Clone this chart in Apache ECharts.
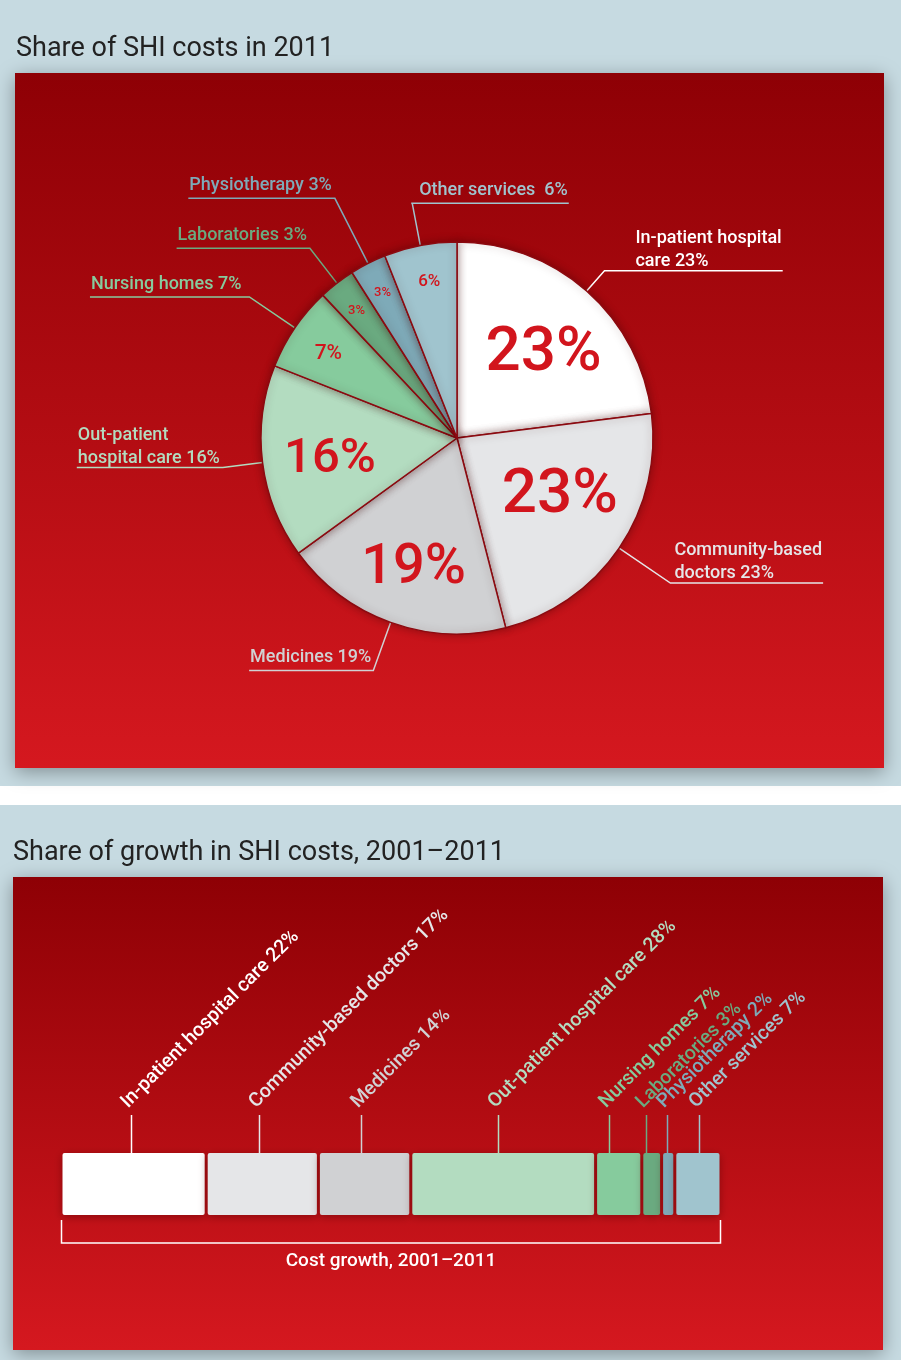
<!DOCTYPE html>
<html>
<head>
<meta charset="utf-8">
<title>Share of SHI costs</title>
<script src="https://cdn.jsdelivr.net/npm/echarts@6/dist/echarts.min.js"></script>
<style>
    html, body { margin: 0; padding: 0; background: #fff; }
    #chart { width: 901px; height: 1360px; }
</style>
</head>
<body>
<div id="chart"></div>
<script>
    // share of SHI costs in 2011, %
    var costNames = ['In-patient hospital care', 'Community-based doctors', 'Medicines', 'Out-patient hospital care',
        'Nursing homes', 'Laboratories', 'Physiotherapy', 'Other services'];
    var costShare = [23, 23, 19, 16, 7, 3, 3, 6];
    var costLabelText = ['In-patient hospital\ncare', 'Community-based\ndoctors', 'Medicines', 'Out-patient\nhospital care',
        'Nursing homes', 'Laboratories', 'Physiotherapy', 'Other services '];

    // share of growth in SHI costs 2001-2011, %
    var growthNames = ['In-patient hospital care', 'Community-based doctors', 'Medicines', 'Out-patient hospital care',
        'Nursing homes', 'Laboratories', 'Physiotherapy', 'Other services'];
    var growthShare = [22, 17, 14, 28, 7, 3, 2, 7];
    var growthAxisLabel = 'Cost growth, 2001\u20132011';

    var colors = ['#ffffff', '#e5e6e8', '#d0d1d3', '#b3dcc0', '#86cb9d', '#6aaa80', '#7eaab8', '#a0c4ce'];
    var font = 'Roboto';

    // label styling for the pie (leader line lengths, side of the text, padding)
    var lineLen = [27, 62, 51, 40, 55, 44, 73, 43];
    var lineLen2 = [28, 1, 1, 1, 7, 2, 1, 1];
    var labelSide = [1, 1, -1, -1, -1, -1, -1, 1];
    var labelPad = [3, 3, 1, 2, 1, 1, 2, 8];
    var innerSize = [62, 62, 56, 49, 21, 13, 13, 17];
    var innerShift = [[2, 13], [-3, -13], [0, 11], [0, 6], [7, 8], [0, 2], [0, 1], [3, 5]];
    // sideways shift of the ticks in the bar, like the original
    var tickShift = [-2.5, -3, -3.5, -5, -10, -6, -1.5, 1];

    var pieCenter = [457, 438];
    var pieRadius = 196;

    var growthData = [];
    var acc = 0;
    growthShare.forEach(function (v, i) {
        growthData.push([acc, acc + v, 0, i]);
        acc += v;
    });

    function pieLabelLayout(params) {
        var i = params.dataIndex;
        var pts = params.labelLinePoints;
        if (!pts) return {};
        var side = labelSide[i];
        var w = params.labelRect.width;
        var ex = pts[2][0], ey = pts[2][1];
        var multi = String(params.text).indexOf('\n') >= 0;
        var tx = side > 0 ? ex + labelPad[i] : ex - labelPad[i] - w;
        var endX = side > 0 ? ex + labelPad[i] + w + 1 : ex - labelPad[i] - w - 1;
        return {
            x: tx,
            y: ey - 1 + (multi ? 3 : 0),
            align: 'left',
            verticalAlign: 'bottom',
            labelLinePoints: [pts[0], pts[1], pts[2], [endX, ey]]
        };
    }

    function innerLabelLayout(params) {
        var s = innerShift[params.dataIndex];
        return { dx: s[0], dy: s[1] };
    }

    function renderSegment(params, api) {
        var i = api.value(3);
        var a = api.coord([api.value(0), api.value(2)]);
        var b = api.coord([api.value(1), api.value(2)]);
        var band = api.size([0, 1])[1];
        var top = a[1] - band / 2;
        var cx = Math.round((a[0] + b[0]) / 2 + tickShift[i]) + 0.5;
        var tickTop = top - 38;
        return {
            type: 'group',
            children: [{
                type: 'rect',
                shape: { x: a[0] + 1.5, y: top, width: b[0] - a[0] - 3, height: band, r: 2 },
                style: { fill: colors[i], shadowBlur: 8, shadowOffsetY: 2, shadowColor: 'rgba(70,0,0,0.45)' }
            }, {
                type: 'line',
                shape: { x1: cx, y1: tickTop, x2: cx, y2: top },
                style: { stroke: colors[i], lineWidth: 1.5 }
            }, {
                type: 'text',
                x: cx - 7,
                y: tickTop - 10,
                rotation: Math.PI / 4,
                style: {
                    text: growthNames[i] + ' ' + growthShare[i] + '%',
                    fill: colors[i], fontFamily: font, fontSize: 19.5, fontWeight: 500,
                    align: 'left', verticalAlign: 'middle'
                }
            }]
        };
    }

    function renderBracket(params, api) {
        var a = api.coord([api.value(0), api.value(2)]);
        var b = api.coord([api.value(1), api.value(2)]);
        var band = api.size([0, 1])[1];
        var bottom = a[1] + band / 2;
        var x1 = Math.round(a[0]) + 0.5, x2 = Math.round(b[0]) - 0.5;
        return {
            type: 'group',
            children: [{
                type: 'polyline',
                shape: { points: [[x1, bottom + 5], [x1, bottom + 28], [x2, bottom + 28], [x2, bottom + 5]] },
                style: { stroke: '#ffffff', lineWidth: 1.5, fill: null }
            }, {
                type: 'text',
                x: (a[0] + b[0]) / 2,
                y: bottom + 46,
                style: {
                    text: growthAxisLabel, fill: '#ffffff', fontFamily: font, fontSize: 19, fontWeight: 500,
                    align: 'center', verticalAlign: 'middle'
                }
            }]
        };
    }

    var redFill = new echarts.graphic.LinearGradient(0, 0, 0, 1, [
        { offset: 0, color: '#8e0005' },
        { offset: 1, color: '#d5181f' }
    ]);

    var chart = echarts.init(document.getElementById('chart'));
    var option = {
        animation: false,
        title: [{
            text: 'Share of SHI costs in 2011',
            left: 11, top: 31,
            textStyle: { fontFamily: font, fontSize: 27, fontWeight: 'normal', color: '#222' }
        }, {
            text: 'Share of growth in SHI costs, 2001\u20132011',
            left: 8, top: 835,
            textStyle: { fontFamily: font, fontSize: 27, fontWeight: 'normal', color: '#222' }
        }],
        graphic: [
            { type: 'rect', z: -10, shape: { x: 0, y: 0, width: 901, height: 786 }, style: { fill: '#c6dae1' } },
            { type: 'rect', z: -10, shape: { x: 0, y: 805, width: 901, height: 555 }, style: { fill: '#c6dae1' } },
            {
                type: 'rect', z: -9, shape: { x: 15, y: 73, width: 869, height: 695 },
                style: { fill: redFill, shadowBlur: 18, shadowOffsetY: 4, shadowColor: 'rgba(0,0,0,0.35)' }
            },
            {
                type: 'rect', z: -9, shape: { x: 13, y: 877, width: 870, height: 473 },
                style: { fill: redFill, shadowBlur: 18, shadowOffsetY: 4, shadowColor: 'rgba(0,0,0,0.35)' }
            }
        ],
        grid: { left: 61, right: 180, top: 1153, height: 62 },
        xAxis: { type: 'value', min: 0, max: 100, show: false },
        yAxis: { type: 'category', data: ['growth'], show: false },
        series: [{
            name: 'costs',
            type: 'pie',
            center: pieCenter,
            radius: pieRadius,
            startAngle: 90,
            clockwise: true,
            avoidLabelOverlap: false,
            silent: true,
            itemStyle: { borderColor: '#8c0a10', borderWidth: 1.5, shadowBlur: 8, shadowColor: 'rgba(60,0,0,0.4)' },
            label: {
                show: true, position: 'outside', overflow: 'none',
                fontFamily: font, fontSize: 18, fontWeight: 500, lineHeight: 23,
                formatter: function (p) { return costLabelText[p.dataIndex] + ' ' + p.value + '%'; }
            },
            labelLine: { show: true, smooth: false, lineStyle: { width: 1.5 } },
            labelLayout: pieLabelLayout,
            data: costShare.map(function (v, i) {
                return {
                    value: v, name: costNames[i],
                    itemStyle: { color: colors[i] },
                    label: { color: colors[i] },
                    labelLine: { length: lineLen[i], length2: lineLen2[i], lineStyle: { color: colors[i] } }
                };
            })
        }, {
            // big percentages inside the slices
            type: 'pie',
            center: pieCenter,
            radius: [54, pieRadius],
            startAngle: 90,
            silent: true,
            itemStyle: { color: 'rgba(0,0,0,0)' },
            label: { position: 'inside', color: '#d2151d', fontFamily: font, fontWeight: 500, formatter: '{c}%' },
            labelLine: { show: false },
            labelLayout: innerLabelLayout,
            data: costShare.map(function (v, i) {
                return { value: v, name: costNames[i], label: { show: v >= 10, fontSize: innerSize[i] } };
            })
        }, {
            // small percentages near the rim
            type: 'pie',
            center: pieCenter,
            radius: [126, pieRadius],
            startAngle: 90,
            silent: true,
            itemStyle: { color: 'rgba(0,0,0,0)' },
            label: { position: 'inside', color: '#d2151d', fontFamily: font, fontWeight: 500, formatter: '{c}%' },
            labelLine: { show: false },
            labelLayout: innerLabelLayout,
            data: costShare.map(function (v, i) {
                return { value: v, name: costNames[i], label: { show: v < 10, fontSize: innerSize[i] } };
            })
        }, {
            name: 'growth',
            type: 'custom',
            silent: true,
            renderItem: renderSegment,
            encode: { x: [0, 1], y: 2 },
            data: growthData
        }, {
            type: 'custom',
            silent: true,
            renderItem: renderBracket,
            encode: { x: [0, 1], y: 2 },
            data: [[0, acc, 0]]
        }]
    };
    chart.setOption(option);
</script>
</body>
</html>
